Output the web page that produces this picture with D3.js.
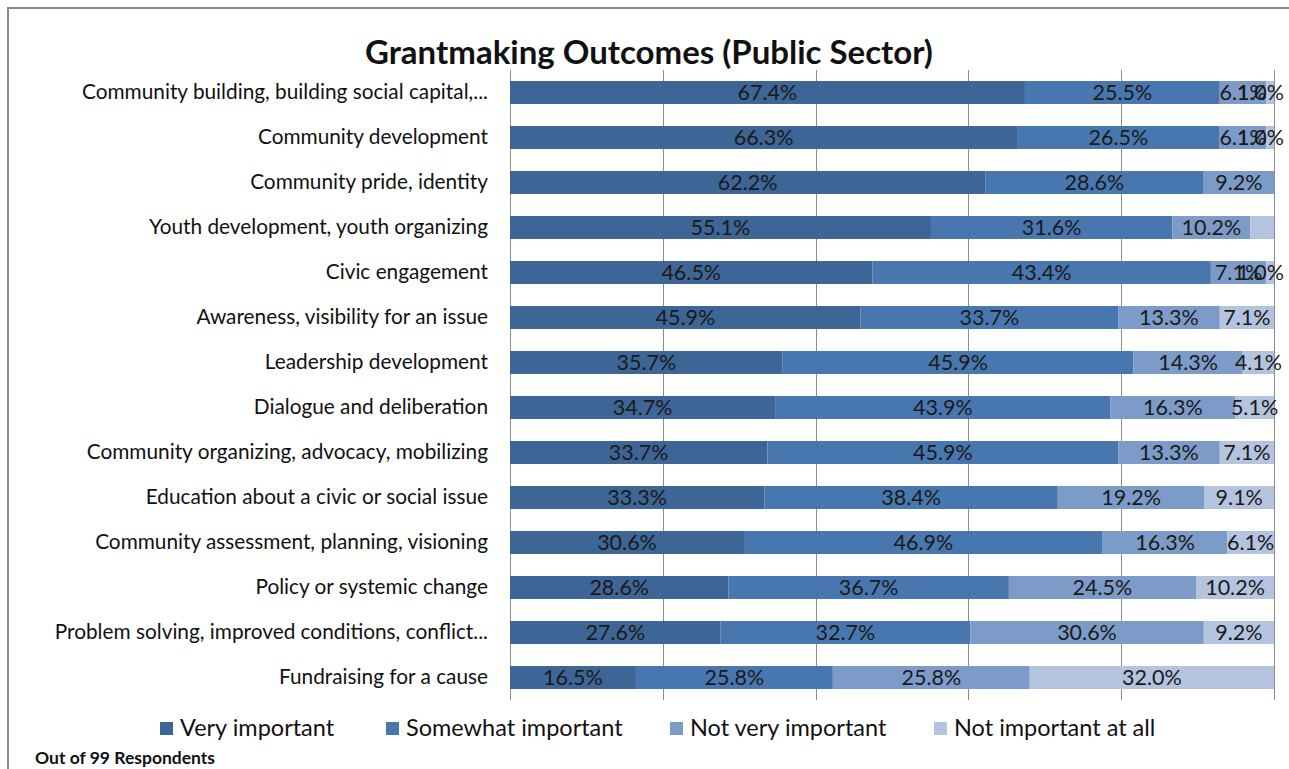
<!DOCTYPE html>
<html>
<head>
<meta charset="utf-8">
<script src="https://cdn.jsdelivr.net/npm/d3@7"></script>
<style>
  html, body { margin: 0; padding: 0; background: #fff; }
  svg { display: block; }
  text { font-family: Lato, "Open Sans", sans-serif; fill: #111; }
</style>
</head>
<body>
<svg id="chart" width="1289" height="769"></svg>
<script>
// Outcome categories, top to bottom
const categories = [
  "Community building, building social capital,...",
  "Community development",
  "Community pride, identity",
  "Youth development, youth organizing",
  "Civic engagement",
  "Awareness, visibility for an issue",
  "Leadership development",
  "Dialogue and deliberation",
  "Community organizing, advocacy, mobilizing",
  "Education about a civic or social issue",
  "Community assessment, planning, visioning",
  "Policy or systemic change",
  "Problem solving, improved conditions, conflict...",
  "Fundraising for a cause"
];

const seriesNames = ["Very important", "Somewhat important", "Not very important", "Not important at all"];

// Percent of respondents per rating
const veryImportant     = [67.4, 66.3, 62.2, 55.1, 46.5, 45.9, 35.7, 34.7, 33.7, 33.3, 30.6, 28.6, 27.6, 16.5];
const somewhatImportant = [25.5, 26.5, 28.6, 31.6, 43.4, 33.7, 45.9, 43.9, 45.9, 38.4, 46.9, 36.7, 32.7, 25.8];
const notVeryImportant  = [ 6.1,  6.1,  9.2, 10.2,  7.1, 13.3, 14.3, 16.3, 13.3, 19.2, 16.3, 24.5, 30.6, 25.8];
const notImportantAtAll = [ 1.0,  1.0,  0.0,  3.1,  1.0,  7.1,  4.1,  5.1,  7.1,  9.1,  6.1, 10.2,  9.2, 32.0];
// Segments whose value label is not printed
const hiddenLabels = [[3, "Not important at all"]];

const colors = ["#3d6595", "#4877b0", "#7c9bc8", "#b4c3de"];

const title = "Grantmaking Outcomes (Public Sector)";
const footnote = "Out of 99 Respondents";
const gridTicks = [0, 0.2, 0.4, 0.6, 0.8, 1.0];

const rows = categories.map((c, i) => ({
  category: c,
  "Very important": veryImportant[i],
  "Somewhat important": somewhatImportant[i],
  "Not very important": notVeryImportant[i],
  "Not important at all": notImportantAtAll[i]
}));

const svg = d3.select("#chart");
const width = 1289;
const height = 769;

// chart frame
svg.append("path")
  .attr("d", `M8,${height} L8,8 L${width},8`)
  .attr("fill", "none")
  .attr("stroke", "#8a8a8a")
  .attr("stroke-width", 2);

const x = d3.scaleLinear().domain([0, 1]).range([510, 1274]);
const y = d3.scaleBand().domain(categories).range([70, 700]).paddingInner(0.49).paddingOuter(0.245);

// 100% stacked layout
const stack = d3.stack().keys(seriesNames).offset(d3.stackOffsetExpand);
const layers = stack(rows);

// vertical gridlines
svg.append("g").selectAll("line")
  .data(gridTicks)
  .join("line")
  .attr("x1", d => Math.round(x(d)) + 0.5)
  .attr("x2", d => Math.round(x(d)) + 0.5)
  .attr("y1", y.range()[0])
  .attr("y2", y.range()[1])
  .attr("stroke", "#8c8c8c")
  .attr("stroke-width", 1);

// bars
const layerG = svg.append("g").selectAll("g")
  .data(layers)
  .join("g")
  .attr("fill", (d, i) => colors[i]);

layerG.selectAll("rect")
  .data(d => d)
  .join("rect")
  .attr("x", d => x(d[0]))
  .attr("y", d => y(d.data.category))
  .attr("width", d => Math.max(0, x(d[1]) - x(d[0])))
  .attr("height", y.bandwidth());

// value labels, kept inside the chart's right edge
const labelG = svg.append("g");
const maxRight = 1284;
layers.forEach((layer) => {
  layer.forEach((d, ri) => {
    const v = d.data[layer.key];
    if (!v) return;
    if (hiddenLabels.some(h => h[0] === ri && h[1] === layer.key)) return;
    const t = labelG.append("text")
      .attr("x", (x(d[0]) + x(d[1])) / 2)
      .attr("y", y(d.data.category) + y.bandwidth() / 2)
      .attr("dy", "0.36em")
      .attr("text-anchor", "middle")
      .style("font-size", "21.5px")
      .style("fill", "#1a1a1a")
      .text(v.toFixed(1) + "%");
    const w = t.node().getComputedTextLength();
    const cx = (x(d[0]) + x(d[1])) / 2;
    if (cx + w / 2 > maxRight) t.attr("x", maxRight - w / 2);
  });
});

// category axis labels
const yAxis = d3.axisLeft(y).tickSize(0).tickPadding(22);
const yg = svg.append("g").attr("transform", `translate(510,0)`).call(yAxis);
yg.select(".domain").remove();
yg.selectAll("text")
  .style("font-family", "Lato, 'Open Sans', sans-serif")
  .style("font-size", "20.8px")
  .style("fill", "#111");

// title
svg.append("text")
  .attr("x", 649)
  .attr("y", 64)
  .attr("text-anchor", "middle")
  .style("font-size", "33px")
  .style("font-weight", "bold")
  .text(title);

// legend
const legendX = [160, 386, 670, 934];
const legend = svg.append("g").selectAll("g")
  .data(seriesNames)
  .join("g")
  .attr("transform", (d, i) => `translate(${legendX[i]},728)`);
legend.append("rect")
  .attr("x", 0).attr("y", -6)
  .attr("width", 13).attr("height", 13)
  .attr("fill", (d, i) => colors[i]);
legend.append("text")
  .attr("x", 20)
  .attr("dy", "0.36em")
  .style("font-size", "23.5px")
  .text(d => d);

// footnote
svg.append("text")
  .attr("x", 35)
  .attr("y", 764)
  .style("font-size", "17.5px")
  .style("font-weight", "bold")
  .text(footnote);
</script>
</body>
</html>
